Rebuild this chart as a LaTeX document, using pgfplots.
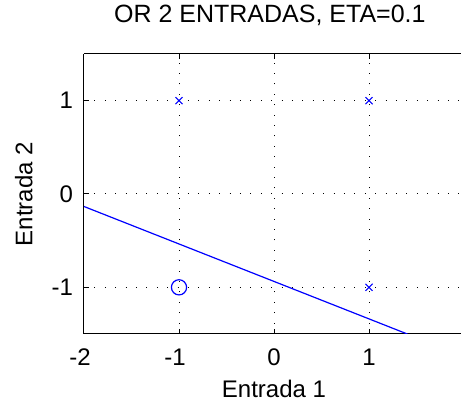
\documentclass[border=0pt]{standalone}
\usepackage{fontspec}
\setmainfont{Liberation Sans}
\usepackage{pgfplots}
\pgfplotsset{compat=1.18}
\begin{document}
\begin{tikzpicture}[font=\fontsize{12}{14}\selectfont]
\useasboundingbox (-42pt,-33.5pt) rectangle (188.5pt,167pt);
\begin{axis}[
  scale only axis,
  width=188.5pt, height=140pt,
  at={(0,0)}, anchor=south west,
  xmin=-2, xmax=1.968, ymin=-1.5, ymax=1.5,
  axis x line*=box, axis y line*=left,
  xtick={-2,-1,0,1}, xticklabels={\llap{-}2,\llap{-}1,0,1},
  ytick={-1,0,1}, yticklabels={-1,0,1},
  tick align=inside, major tick length=2.5pt,
  every tick/.style={black, line width=0.5pt},
  axis line style={line width=0.5pt, -},
  grid=major,
  major grid style={black, line width=0.5pt, dash pattern=on 0.5pt off 4.7pt},
  ticklabel style={font=\fontsize{12}{14}\selectfont},
  xticklabel style={anchor=base, yshift=-16pt},
  yticklabel style={xshift=-2pt},
  title={OR 2 ENTRADAS, ETA=0.1},
  title style={at={(axis description cs:0.493,1.0679)}, anchor=base, font=\fontsize{12.5}{14}\selectfont},
  xlabel={Entrada 1},
  xlabel style={at={(axis description cs:0.504,-0.228)}, anchor=base, font=\fontsize{12}{14}\selectfont},
  ylabel={Entrada 2},
  ylabel style={at={(axis description cs:-0.137,0.5)}, anchor=base, font=\fontsize{12}{14}\selectfont},
]
\addplot[blue, line width=0.6pt] coordinates {(-2,-0.134) (1.403,-1.5)};
\addplot[only marks, blue, mark=x, mark size=2.5pt, line width=0.5pt] coordinates {(-1,1) (1,1) (1,-1)};
\addplot[only marks, blue, mark=o, mark size=3.8pt, line width=0.6pt] coordinates {(-1,-1)};
\end{axis}
\end{tikzpicture}
\end{document}
